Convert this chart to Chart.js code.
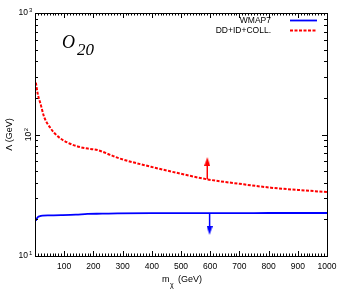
<!DOCTYPE html>
<html>
<head>
<meta charset="utf-8">
<script src="https://cdn.jsdelivr.net/npm/chart.js@4/dist/chart.umd.min.js"></script>
<style>
  html, body { margin: 0; padding: 0; background: #fff; }
</style>
</head>
<body>
<canvas id="chart" width="346" height="297"></canvas>
<script>
// WMAP7 relic density curve
const massWmap   = [3, 6, 9, 15, 26, 50, 89, 140, 180, 230, 283, 400, 500, 600, 700, 800, 900, 1000];
const lambdaWmap = [19.5, 20.3, 20.8, 21.2, 21.5, 21.6, 21.7, 21.9, 22.2, 22.3, 22.45, 22.5, 22.5, 22.55, 22.55, 22.6, 22.6, 22.6];

// DD+ID+COLL. bound
const massDD   = [3, 9, 20, 31, 54, 77, 112, 157, 191, 214, 260, 288, 397, 500, 589, 700, 808, 900, 1000];
const lambdaDD = [267, 218, 175, 140, 112, 97, 85.7, 78.5, 76, 74.5, 67.7, 63.7, 54.3, 47.5, 42.8, 39.3, 36.5, 35, 33.6];

// arrows (mass, lambda at foot and at head)
const arrowUpMass   = [590, 590];
const arrowUpLambda = [42.8, 60];
const arrowDnMass   = [598, 598];
const arrowDnLambda = [22.5, 16.2];

const xTickLabels = [100, 200, 300, 400, 500, 600, 700, 800, 900, 1000];
const yDecades = [10, 100, 1000];

const legendNames = ["WMAP7", "DD+ID+COLL."];

const SANS = "'Liberation Sans', Arial, sans-serif";

function arrowHead(color) {
  const c = document.createElement("canvas");
  c.width = 6; c.height = 9;
  const g = c.getContext("2d");
  g.fillStyle = color;
  g.beginPath();
  g.moveTo(3, 0);
  g.lineTo(6, 9);
  g.lineTo(0, 9);
  g.closePath();
  g.fill();
  return c;
}

const toXY = (xs, ys) => xs.map((x, i) => ({ x: x, y: ys[i] }));

const frame = {
  id: "frame",
  afterDraw(chart) {
    const ctx = chart.ctx;
    const a = chart.chartArea;
    const sx = chart.scales.x, sy = chart.scales.y;
    ctx.save();
    ctx.strokeStyle = "#000";
    ctx.lineWidth = 1;
    ctx.strokeRect(Math.round(a.left) + 0.5, Math.round(a.top) + 0.5,
                   Math.round(a.right - a.left), Math.round(a.bottom - a.top));

    // x ticks, inward, bottom and top
    ctx.beginPath();
    for (let v = 10; v < 1000; v += 10) {
      const px = Math.round(sx.getPixelForValue(v)) + 0.5;
      const len = v % 100 === 0 ? 5 : 2.5;
      ctx.moveTo(px, a.bottom); ctx.lineTo(px, a.bottom - len);
      ctx.moveTo(px, a.top); ctx.lineTo(px, a.top + len);
    }
    // y ticks, log minor
    for (let d = 10; d < 1000; d *= 10) {
      for (let k = 1; k <= 9; k++) {
        const py = Math.round(sy.getPixelForValue(d * k)) + 0.5;
        const len = k === 1 ? 5 : 3;
        ctx.moveTo(a.left, py); ctx.lineTo(a.left + len, py);
        ctx.moveTo(a.right, py); ctx.lineTo(a.right - len, py);
      }
    }
    ctx.stroke();

    // x tick labels
    ctx.fillStyle = "#000";
    ctx.font = "8.5px " + SANS;
    ctx.textAlign = "center";
    ctx.textBaseline = "middle";
    xTickLabels.forEach(v => {
      ctx.fillText(String(v), sx.getPixelForValue(v), a.bottom + 11);
    });

    // y tick labels (10^1, 10^3 horizontal, 10^2 rotated as in the original)
    yDecades.forEach(v => {
      const py = sy.getPixelForValue(v);
      const exp = String(Math.round(Math.log10(v)));
      if (v === 100) {
        ctx.save();
        ctx.translate(a.left - 6, py);
        ctx.rotate(-Math.PI / 2);
        ctx.textAlign = "center";
        ctx.font = "8.5px " + SANS;
        ctx.fillText("10", -2, 0);
        ctx.font = "6px " + SANS;
        ctx.fillText(exp, 5, -3);
        ctx.restore();
      } else {
        ctx.textAlign = "right";
        ctx.font = "8.5px " + SANS;
        ctx.fillText("10", a.left - 7, py);
        ctx.textAlign = "left";
        ctx.font = "6px " + SANS;
        ctx.fillText(exp, a.left - 6, py - 3);
      }
    });

    // axis titles
    ctx.save();
    ctx.translate(10, sy.getPixelForValue(100));
    ctx.rotate(-Math.PI / 2);
    ctx.textAlign = "center";
    ctx.font = "9px " + SANS;
    ctx.fillText("\u039B (GeV)", 0, 0);
    ctx.restore();

    ctx.textAlign = "left";
    ctx.font = "9px " + SANS;
    ctx.fillText("m", 162, 280);
    ctx.font = "7px " + SANS;
    ctx.fillText("\u03C7", 170, 285);
    ctx.font = "9px " + SANS;
    ctx.fillText("(GeV)", 178, 280);

    // operator label
    ctx.font = "italic 18px 'Liberation Serif', 'Times New Roman', serif";
    ctx.textBaseline = "alphabetic";
    ctx.fillText("O", 62, 48);
    ctx.font = "italic 17px 'Liberation Serif', 'Times New Roman', serif";
    ctx.fillText("20", 77, 55);

    // legend
    ctx.font = "8.5px " + SANS;
    ctx.textAlign = "right";
    ctx.textBaseline = "middle";
    const ds = chart.data.datasets;
    legendNames.forEach((name, i) => {
      const y = 20.5 + i * 10;
      ctx.fillStyle = "#000";
      ctx.fillText(name, 271, y);
      ctx.strokeStyle = ds[i].borderColor;
      ctx.lineWidth = ds[i].borderWidth;
      ctx.setLineDash(ds[i].borderDash || []);
      ctx.beginPath();
      ctx.moveTo(290, y); ctx.lineTo(317, y);
      ctx.stroke();
    });
    ctx.setLineDash([]);
    ctx.restore();
  }
};

new Chart(document.getElementById("chart"), {
  type: "scatter",
  data: {
    datasets: [
      {
        label: legendNames[0],
        data: toXY(massWmap, lambdaWmap),
        showLine: true,
        borderColor: "#0000ff",
        borderWidth: 1.8,
        pointRadius: 0,
        cubicInterpolationMode: "monotone"
      },
      {
        label: legendNames[1],
        data: toXY(massDD, lambdaDD),
        showLine: true,
        borderColor: "#ff0000",
        borderWidth: 2,
        borderDash: [3, 1.5],
        pointRadius: 0,
        cubicInterpolationMode: "monotone"
      },
      {
        data: toXY(arrowUpMass, arrowUpLambda),
        showLine: true,
        borderColor: "#ff0000",
        borderWidth: 1.5,
        pointStyle: arrowHead("#ff0000"),
        pointRadius: [0, 4],
        pointRotation: 0
      },
      {
        data: toXY(arrowDnMass, arrowDnLambda),
        showLine: true,
        borderColor: "#0000ff",
        borderWidth: 1.5,
        pointStyle: arrowHead("#0000ff"),
        pointRadius: [0, 4],
        pointRotation: 180
      }
    ]
  },
  options: {
    responsive: false,
    animation: false,
    layout: { padding: { left: 35, top: 13, right: 19, bottom: 41 } },
    plugins: { legend: { display: false }, tooltip: { enabled: false } },
    scales: {
      x: { type: "linear", min: 0, max: 1000, display: false },
      y: { type: "logarithmic", min: 10, max: 1000, display: false }
    }
  },
  plugins: [frame]
});
</script>
</body>
</html>
